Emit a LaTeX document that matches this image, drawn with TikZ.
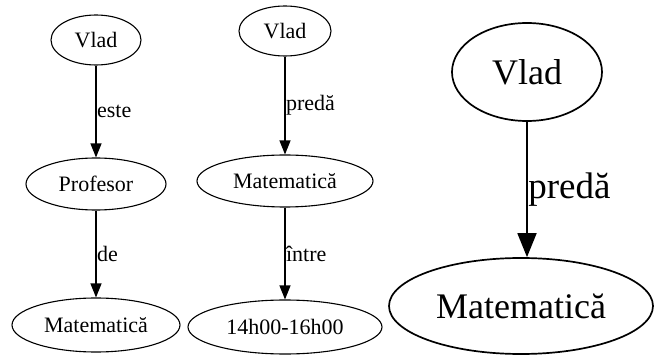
\documentclass[tikz,border=0pt]{standalone}
\usepackage{fontspec}
\setmainfont{Liberation Serif}
\usetikzlibrary{shapes.geometric,arrows.meta}

\begin{document}
\begin{tikzpicture}[x=1pt, y=-1pt,
  nod/.style={draw, ellipse, inner sep=0pt, line width=1.1pt, font=\fontsize{22}{26}\selectfont},
  bignod/.style={draw, ellipse, inner sep=0pt, line width=1.7pt, font=\fontsize{36}{43}\selectfont},
  rel/.style={draw, line width=1.2pt, -{Triangle[length=14pt, width=11pt]}},
  bigrel/.style={draw, line width=1.8pt, -{Triangle[length=24pt, width=19pt]}},
  lbl/.style={anchor=west, inner sep=0.5pt, font=\fontsize{22}{26}\selectfont},
  biglbl/.style={anchor=west, inner sep=0.5pt, font=\fontsize{37}{44}\selectfont}]
  \useasboundingbox (0,0) rectangle (656,358);
  \node[nod, minimum width=90pt, minimum height=50pt] (vladA) at (96,40) {Vlad};
  \node[nod, minimum width=140pt, minimum height=52pt] (profA) at (96,184) {Profesor};
  \node[nod, minimum width=168pt, minimum height=54pt] (matA) at (96,325) {Matematică};
  \node[nod, minimum width=92pt, minimum height=50pt] (vladB) at (285,31) {Vlad};
  \node[nod, minimum width=176pt, minimum height=52pt] (matB) at (285,181) {Matematică};
  \node[nod, minimum width=194pt, minimum height=54pt] (oreB) at (285,327) {14h00-16h00};
  \node[bignod, minimum width=150pt, minimum height=98pt] (vladC) at (527,72) {Vlad};
  \node[bignod, minimum width=264pt, minimum height=96pt] (matC) at (521,306) {Matematică};
  \draw[rel] (vladA) -- node[lbl] {este} (profA);
  \draw[rel] (profA) -- node[lbl] {de} (matA);
  \draw[rel] (vladB) -- node[lbl] {predă} (matB);
  \draw[rel] (matB) -- node[lbl] {între} (oreB);
  \draw[bigrel] (vladC.south) -- node[biglbl] {predă} (vladC.south |- matC.north);
\end{tikzpicture}
\end{document}
